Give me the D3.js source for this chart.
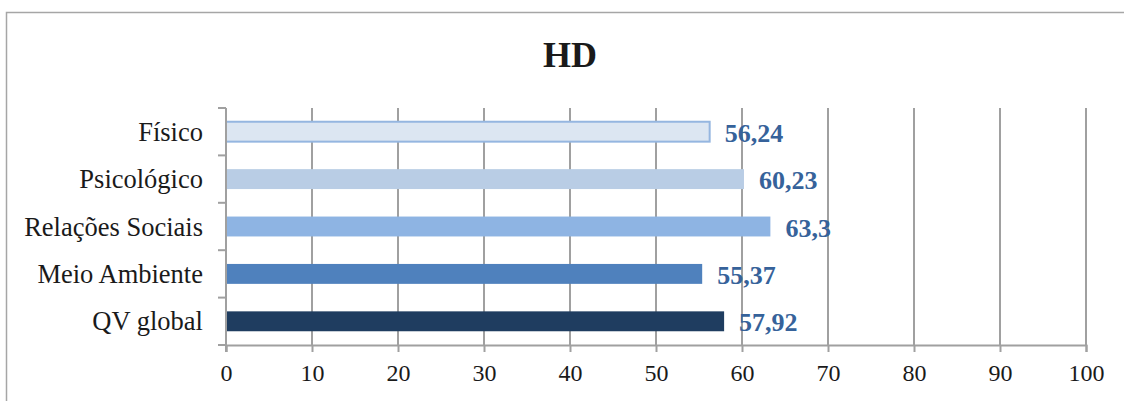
<!DOCTYPE html>
<html>
<head>
<meta charset="utf-8">
<script src="https://cdn.jsdelivr.net/npm/d3@7"></script>
<style>
  html, body { margin: 0; padding: 0; background: #fff; }
  svg text { font-family: "Liberation Serif", "Times New Roman", serif; }
</style>
</head>
<body>
<div id="chart"></div>
<script>
const categories = ['Físico', 'Psicológico', 'Relações Sociais', 'Meio Ambiente', 'QV global'];
const values = [56.24, 60.23, 63.3, 55.37, 57.92];
const valueLabels = ['56,24', '60,23', '63,3', '55,37', '57,92'];
const barColors = ['#dce6f2', '#b9cde5', '#8eb4e3', '#4f81bd', '#1f3d60'];
const xTicks = [0, 10, 20, 30, 40, 50, 60, 70, 80, 90, 100];

const width = 1124, height = 401;
const margin = {top: 108, right: 38, bottom: 56, left: 226};

const svg = d3.select('#chart').append('svg')
	.attr('width', width)
	.attr('height', height);

// outer frame
svg.append('rect')
	.attr('x', 6.5).attr('y', 12.5)
	.attr('width', width + 20).attr('height', height)
	.attr('fill', 'none')
	.attr('stroke', '#a6a6a6')
	.attr('stroke-width', 1.5);

svg.append('text')
	.attr('x', 570).attr('y', 67)
	.attr('text-anchor', 'middle')
	.attr('font-size', 36)
	.attr('font-weight', 'bold')
	.attr('fill', '#1a1a1a')
	.text('HD');

const x = d3.scaleLinear().domain([0, 100]).range([margin.left, width - margin.right]);
const y = d3.scaleBand().domain(categories).range([margin.top, height - margin.bottom]).paddingInner(0.58).paddingOuter(0.29);

const g = svg.append('g');

// vertical grid lines
g.selectAll('.grid').data(xTicks.slice(1)).enter().append('line')
	.attr('class', 'grid')
	.attr('x1', d => x(d)).attr('x2', d => x(d))
	.attr('y1', margin.top).attr('y2', height - margin.bottom)
	.attr('stroke', '#a0a0a0').attr('stroke-width', 2);

// bars
g.selectAll('.bar').data(categories).enter().append('rect')
	.attr('class', 'bar')
	.attr('x', x(0))
	.attr('y', d => y(d))
	.attr('width', (d, i) => x(values[i]) - x(0))
	.attr('height', y.bandwidth())
	.attr('fill', (d, i) => barColors[i])
	.attr('stroke', (d, i) => i === 0 ? '#95b6e0' : 'none')
	.attr('stroke-width', 2);

// value labels
g.selectAll('.val').data(categories).enter().append('text')
	.attr('class', 'val')
	.attr('x', (d, i) => x(values[i]) + 15)
	.attr('y', d => y(d) + y.bandwidth() / 2 + 10)
	.attr('font-size', 26)
	.attr('font-weight', 'bold')
	.attr('fill', '#36629a')
	.text((d, i) => valueLabels[i]);

// x axis
const xAxis = d3.axisBottom(x).tickValues(xTicks).tickSize(7).tickPadding(12).tickFormat(d3.format('d'));
const xAxisG = svg.append('g')
	.attr('transform', 'translate(0,' + (height - margin.bottom) + ')')
	.call(xAxis);
xAxisG.select('.domain').attr('stroke', '#a0a0a0').attr('stroke-width', 2);
xAxisG.selectAll('.tick line').attr('stroke', '#a0a0a0').attr('stroke-width', 2);
xAxisG.selectAll('.tick text').attr('font-size', 24).attr('fill', '#1a1a1a')
	.attr('font-family', '"Liberation Serif", serif');

// y axis: tick marks at band boundaries
const yAxisG = svg.append('g');
yAxisG.append('line')
	.attr('x1', x(0)).attr('x2', x(0))
	.attr('y1', margin.top).attr('y2', height - margin.bottom + 7)
	.attr('stroke', '#a0a0a0').attr('stroke-width', 2);
const step = y.step();
const bounds = d3.range(categories.length + 1).map(i => margin.top + i * step);
yAxisG.selectAll('.ytick').data(bounds).enter().append('line')
	.attr('x1', x(0) - 8).attr('x2', x(0))
	.attr('y1', d => d).attr('y2', d => d)
	.attr('stroke', '#a0a0a0').attr('stroke-width', 2);
yAxisG.selectAll('.ylab').data(categories).enter().append('text')
	.attr('x', 203)
	.attr('y', d => y(d) + y.bandwidth() / 2 + 9)
	.attr('text-anchor', 'end')
	.attr('font-size', 26.5)
	.attr('fill', '#1a1a1a')
	.text(d => d);
</script>
</body>
</html>
